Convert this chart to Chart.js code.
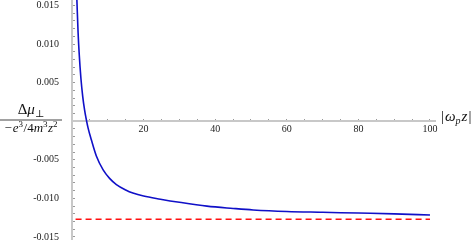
<!DOCTYPE html>
<html>
<head>
<meta charset="utf-8">
<script src="https://cdn.jsdelivr.net/npm/chart.js@4"></script>
<style>
  html, body { margin: 0; padding: 0; background: #fff; }
  #chart { display: block; }
</style>
</head>
<body>
<canvas id="chart" width="474" height="245"></canvas>
<script>
// blue curve (|omega_p z|, normalised shift)
const curveX = [1.33, 1.42, 1.7, 2.0, 2.5, 3.0, 3.5, 4.0, 4.5, 5.4, 6.8, 8.7, 10.5, 12.4, 15, 17, 20, 24.7, 30, 37.7, 45, 50.6, 60, 70, 80, 90, 100];
const curveY = [0.0162, 0.0150, 0.0115, 0.0088, 0.0055, 0.0032, 0.0015, 0.0002, -0.0009, -0.0024, -0.0045, -0.0063, -0.0074, -0.0082, -0.0089, -0.0093, -0.0097, -0.0101, -0.0105, -0.0110, -0.0113, -0.0115, -0.0117, -0.0118, -0.0119, -0.0120, -0.01215];

// red dashed asymptote
const limitX = [1.0, 100];
const limitY = [-0.0127, -0.0127];

// labelled ticks
const xLabelTicks = [20, 40, 60, 80, 100];
const yLabelTicks = [0.015, 0.010, 0.005, -0.005, -0.010, -0.015];

const serif = '"Liberation Serif", "DejaVu Serif", serif';

function toPoints(xs, ys) {
    return xs.map((x, i) => ({ x: x, y: ys[i] }));
}

// draw a row of text pieces (italic / sub / superscript)
function drawRuns(ctx, runs, x, y, align) {
    const widths = runs.map(r => {
        ctx.font = (r.italic ? 'italic ' : '') + r.size + 'px ' + serif;
        return ctx.measureText(r.t).width + (r.gap || 0);
    });
    const total = widths.reduce((a, b) => a + b, 0);
    let cx = align === 'center' ? x - total / 2 : x;
    ctx.textBaseline = 'alphabetic';
    ctx.textAlign = 'left';
    runs.forEach((r, i) => {
        ctx.font = (r.italic ? 'italic ' : '') + r.size + 'px ' + serif;
        ctx.fillText(r.t, cx, y + (r.dy || 0));
        cx += widths[i];
    });
}

const numerator = [
    { t: 'Δ', size: 15 },
    { t: 'μ', size: 15, italic: true },
    { t: '⊥', size: 10, dy: 3 }
];
const denominator = [
    { t: '−', size: 13, gap: 1 },
    { t: 'e', size: 13, italic: true },
    { t: '3', size: 9, dy: -5, gap: 0.5 },
    { t: '/', size: 13 },
    { t: '4', size: 13 },
    { t: 'm', size: 13, italic: true },
    { t: '3', size: 9, dy: -5, gap: 0.5 },
    { t: 'z', size: 13, italic: true },
    { t: '2', size: 9, dy: -5 }
];
const xTitle = [
    { t: '|', size: 15, gap: 1 },
    { t: 'ω', size: 15, italic: true },
    { t: 'p', size: 10, italic: true, dy: 3, gap: 1 },
    { t: 'z', size: 15, italic: true, gap: 1 },
    { t: '|', size: 15 }
];

const axisTitles = {
    id: 'axisTitles',
    afterDraw(chart) {
        const ctx = chart.ctx;
        ctx.save();
        ctx.fillStyle = '#111';
        drawRuns(ctx, numerator, 31, 114, 'center');
        ctx.fillStyle = '#444';
        ctx.fillRect(0, 119.5, 62, 1);
        ctx.fillStyle = '#111';
        drawRuns(ctx, denominator, 31, 132, 'center');
        drawRuns(ctx, xTitle, 441, 121, 'left');
        ctx.restore();
    }
};

new Chart(document.getElementById('chart').getContext('2d'), {
    type: 'line',
    data: {
        datasets: [
            {
                data: toPoints(curveX, curveY),
                borderColor: '#1010c8',
                borderWidth: 1.6,
                pointRadius: 0,
                fill: false,
                cubicInterpolationMode: 'monotone'
            },
            {
                data: toPoints(limitX, limitY),
                borderColor: '#ff1010',
                borderWidth: 1.6,
                borderDash: [6, 4],
                pointRadius: 0,
                fill: false
            }
        ]
    },
    options: {
        responsive: false,
        animation: false,
        devicePixelRatio: 1,
        layout: { padding: { left: 0, right: 39, top: 0, bottom: 6 } },
        plugins: {
            legend: { display: false },
            tooltip: { enabled: false }
        },
        scales: {
            x: {
                type: 'linear',
                position: { y: 0 },
                min: 0,
                max: 101.4,
                border: { color: '#c8c8c8', width: 2 },
                grid: {
                    drawOnChartArea: false,
                    drawTicks: true,
                    tickLength: -3,
                    tickColor: '#999999',
                    tickWidth: 1
                },
                ticks: {
                    stepSize: 5,
                    includeBounds: false,
                    autoSkip: false,
                    maxRotation: 0,
                    maxTicksLimit: 200,
                    padding: 5,
                    color: '#222222',
                    font: { family: serif, size: 10 },
                    callback: function(value) {
                        return xLabelTicks.includes(Math.round(value)) && Math.abs(value - Math.round(value)) < 1e-6 ? String(Math.round(value)) : '';
                    }
                },
                afterFit: function(s) {
                    s.paddingLeft = 0;
                    s.paddingRight = 0;
                }
            },
            y: {
                type: 'linear',
                position: 'left',
                min: -0.01526,
                max: 0.01571,
                border: { color: '#c8c8c8', width: 2 },
                grid: {
                    drawOnChartArea: false,
                    drawTicks: true,
                    tickLength: -3,
                    tickColor: '#999999',
                    tickWidth: 1
                },
                ticks: {
                    stepSize: 0.001,
                    includeBounds: false,
                    autoSkip: false,
                    maxTicksLimit: 200,
                    padding: 16,
                    color: '#222222',
                    font: { family: serif, size: 10 },
                    callback: function(value) {
                        const hit = yLabelTicks.find(t => Math.abs(t - value) < 1e-7);
                        return hit === undefined ? '' : hit.toFixed(3);
                    }
                },
                afterFit: function(s) {
                    s.width = 72;
                    s.paddingTop = 0;
                    s.paddingBottom = 0;
                }
            }
        }
    },
    plugins: [axisTitles]
});
</script>
</body>
</html>
